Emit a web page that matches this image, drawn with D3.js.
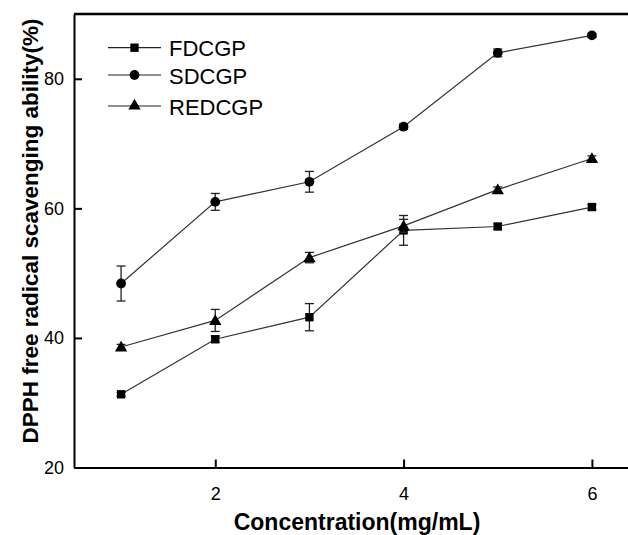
<!DOCTYPE html>
<html>
<head>
<meta charset="utf-8">
<script src="https://cdn.jsdelivr.net/npm/d3@7/dist/d3.min.js"></script>
<style>
  html, body { margin: 0; padding: 0; background: #fff; }
  svg { display: block; }
  text { font-family: "Liberation Sans", Arial, sans-serif; fill: #000; }
</style>
</head>
<body>
<svg id="chart" width="628" height="535"></svg>
<script>
// ---- data ----
const concentrations = [1, 2, 3, 4, 5, 6];
const seriesNames = ["FDCGP", "SDCGP", "REDCGP"];
const fdcgpValues = [31.3, 39.8, 43.2, 56.6, 57.2, 60.2];
const fdcgpErrors = [0.3, 0.5, 2.1, 2.3, 0.4, 0.4];
const sdcgpValues = [48.4, 61.0, 64.1, 72.6, 84.0, 86.7];
const sdcgpErrors = [2.7, 1.3, 1.6, 0.4, 0.6, 0.3];
const redcgpValues = [38.6, 42.7, 52.4, 57.3, 62.9, 67.7];
const redcgpErrors = [0.4, 1.7, 0.8, 1.0, 0.4, 0.4];
const xTicks = [2, 4, 6];
const yTicks = [20, 40, 60, 80];
const xTitle = "Concentration(mg/mL)";
const yTitle = "DPPH free radical scavenging ability(%)";

(function () {
const series = [
  { name: seriesNames[0], values: fdcgpValues, errors: fdcgpErrors, symbol: d3.symbolSquare, size: 70 },
  { name: seriesNames[1], values: sdcgpValues, errors: sdcgpErrors, symbol: d3.symbolCircle, size: 75 },
  { name: seriesNames[2], values: redcgpValues, errors: redcgpErrors, symbol: d3.symbolTriangle, size: 66 }
];

// ---- layout ----
const svg = d3.select("#chart");
const mLeft = 74, mTop = 14, mBottom = 467.5, mRight = 639;
const x = d3.scaleLinear().domain([0.5, 6.5]).range([mLeft, mRight]);
const y = d3.scaleLinear().domain([20, 90]).range([mBottom, mTop]);

// frame top line (right side is cut off in the reference)
svg.append("line").attr("x1", mLeft).attr("x2", mRight).attr("y1", mTop).attr("y2", mTop)
  .attr("stroke", "#000").attr("stroke-width", 2.5);

// axes
const xAxis = d3.axisBottom(x).tickValues(xTicks).tickSizeInner(-8).tickSizeOuter(0).tickPadding(20).tickFormat(d3.format("d"));
const gx = svg.append("g").attr("transform", `translate(0,${mBottom})`).call(xAxis);
gx.select(".domain").attr("stroke", "#000").attr("stroke-width", 2);
gx.selectAll(".tick line").attr("stroke", "#000").attr("stroke-width", 2);
gx.selectAll(".tick text").style("font-size", "18px").style("font-family", "Liberation Sans, Arial, sans-serif").attr("fill", "#000");

const yAxis = d3.axisLeft(y).tickValues(yTicks).tickSizeInner(-8).tickSizeOuter(0).tickPadding(10).tickFormat(d3.format("d"));
const gy = svg.append("g").attr("transform", `translate(${mLeft},0)`).call(yAxis);
gy.select(".domain").attr("stroke", "#000").attr("stroke-width", 2);
gy.selectAll(".tick line").attr("stroke", "#000").attr("stroke-width", 2);
gy.selectAll(".tick text").style("font-size", "18px").style("font-family", "Liberation Sans, Arial, sans-serif").attr("fill", "#000");

// axis titles
svg.append("text").attr("x", 357).attr("y", 530).attr("text-anchor", "middle")
  .style("font-size", "23px").style("font-weight", "bold").text(xTitle);
svg.append("text").attr("transform", `translate(38,231) rotate(-90)`).attr("text-anchor", "middle")
  .style("font-size", "22.5px").style("font-weight", "bold").text(yTitle);

// series
const line = d3.line().x((d, i) => x(concentrations[i])).y(d => y(d));
const plot = svg.append("g");
series.forEach(s => {
  plot.append("path").datum(s.values).attr("d", line)
    .attr("fill", "none").attr("stroke", "#333").attr("stroke-width", 1.2);
  const eb = plot.append("g").attr("stroke", "#222").attr("stroke-width", 1.3);
  s.values.forEach((v, i) => {
    const cx = x(concentrations[i]);
    const y1 = y(v + s.errors[i]), y2 = y(v - s.errors[i]);
    eb.append("line").attr("x1", cx).attr("x2", cx).attr("y1", y1).attr("y2", y2);
    eb.append("line").attr("x1", cx - 4.5).attr("x2", cx + 4.5).attr("y1", y1).attr("y2", y1);
    eb.append("line").attr("x1", cx - 4.5).attr("x2", cx + 4.5).attr("y1", y2).attr("y2", y2);
  });
  plot.selectAll(null).data(s.values).enter().append("path")
    .attr("d", d3.symbol().type(s.symbol).size(s.size))
    .attr("transform", (d, i) => `translate(${x(concentrations[i])},${y(d) + (s.symbol === d3.symbolTriangle ? 1 : 0)})`)
    .attr("fill", "#000");
});

// legend
const legendRows = [47.7, 75, 106];
const legend = svg.append("g");
series.forEach((s, i) => {
  const ly = legendRows[i];
  legend.append("line").attr("x1", 108).attr("x2", 161).attr("y1", ly).attr("y2", ly)
    .attr("stroke", "#222").attr("stroke-width", 1.2);
  legend.append("path").attr("d", d3.symbol().type(s.symbol).size(s.size))
    .attr("transform", `translate(134.5,${ly})`).attr("fill", "#000");
  legend.append("text").attr("x", 169).attr("y", ly + 8.5)
    .style("font-size", "22px").text(s.name);
});
})();
</script>
</body>
</html>
